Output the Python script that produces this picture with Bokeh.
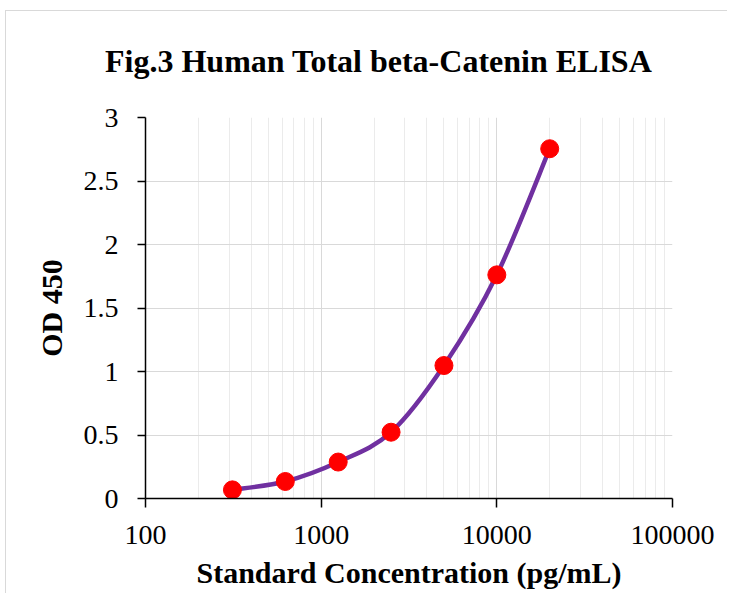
from bokeh.plotting import figure
from bokeh.layouts import column
from bokeh.models import Range1d, FixedTicker, CustomJSTickFormatter, Div
from bokeh.embed import file_html
from bokeh.resources import INLINE
import math

# ---- data ----
concentration = [312.5, 625, 1250, 2500, 5000, 10000, 20000]
od450 = [0.068, 0.134, 0.287, 0.522, 1.047, 1.761, 2.754]
x_ticks = [100, 1000, 10000, 100000]
y_ticks = [0, 0.5, 1, 1.5, 2, 2.5, 3]

title_text = "Fig.3 Human Total beta-Catenin ELISA"
x_label = "Standard Concentration (pg/mL)"
y_label = "OD 450"

SERIF = "Liberation Serif"

title_div = Div(
    text=('<div style="font-family: \'Liberation Serif\'; font-weight: bold; '
          'font-size: 32px; color: black; white-space: nowrap; '
          'padding-left: 99px; padding-top: 32px; line-height: normal;">'
          + title_text + '</div>'),
    width=721, height=80, margin=(0, 0, 0, 0))

p = figure(width=721, height=502, x_axis_type="log",
           x_range=Range1d(100, 100000), y_range=Range1d(0, 3),
           output_backend="svg", toolbar_location=None,
           min_border_left=139, min_border_top=26,
           min_border_right=55, min_border_bottom=95, margin=(0, 0, 0, 0))
p.outline_line_color = None
p.background_fill_color = "white"
p.border_fill_color = "white"

# ticks
minor = [m * 10 ** e for e in range(2, 5) for m in range(2, 10)]
p.xaxis.ticker = FixedTicker(ticks=x_ticks, minor_ticks=minor)
p.yaxis.ticker = FixedTicker(ticks=y_ticks)
p.xaxis.formatter = CustomJSTickFormatter(code="return tick.toString();")
p.yaxis.formatter = CustomJSTickFormatter(code="return tick.toString();")

for ax in (p.xaxis, p.yaxis):
    ax.axis_line_color = "black"
    ax.axis_line_width = 1.5
    ax.major_tick_line_color = "black"
    ax.major_tick_line_width = 1.5
    ax.major_tick_in = 0
    ax.minor_tick_line_color = None
    ax.major_label_text_font = SERIF
    ax.major_label_text_font_size = "28px"
    ax.major_label_text_color = "black"
    ax.axis_label_text_font = SERIF
    ax.axis_label_text_font_style = "bold"
    ax.axis_label_text_font_size = "30px"
    ax.axis_label_text_color = "black"

p.xaxis.axis_label = x_label
p.xaxis.major_tick_out = 9
p.xaxis.major_label_standoff = 18
p.xaxis.axis_label_standoff = 9

p.yaxis.axis_label = y_label
p.yaxis.major_tick_out = 8
p.yaxis.major_label_standoff = 19
p.yaxis.axis_label_standoff = 13

# grids
p.xgrid.grid_line_color = "#d9d9d9"
p.xgrid.grid_line_width = 1
p.xgrid.minor_grid_line_color = "#ebebeb"
p.xgrid.minor_grid_line_width = 1
p.ygrid.grid_line_color = "#d9d9d9"
p.ygrid.grid_line_width = 1

# smoothed line (Catmull-Rom style bezier segments in log-x space)
lx = [math.log10(c) for c in concentration]
n = len(lx)
x0s, y0s, x1s, y1s, cx0s, cy0s, cx1s, cy1s = [], [], [], [], [], [], [], []
for i in range(n - 1):
    ip = max(i - 1, 0)
    inx = min(i + 2, n - 1)
    ax_, ay_ = lx[i], od450[i]
    bx_, by_ = lx[i + 1], od450[i + 1]
    c0x = ax_ + (lx[i + 1] - lx[ip]) / 6
    c0y = ay_ + (od450[i + 1] - od450[ip]) / 6
    c1x = bx_ - (lx[inx] - lx[i]) / 6
    c1y = by_ - (od450[inx] - od450[i]) / 6
    x0s.append(10 ** ax_); y0s.append(ay_)
    x1s.append(10 ** bx_); y1s.append(by_)
    cx0s.append(10 ** c0x); cy0s.append(c0y)
    cx1s.append(10 ** c1x); cy1s.append(c1y)

p.bezier(x0=x0s, y0=y0s, x1=x1s, y1=y1s, cx0=cx0s, cy0=cy0s, cx1=cx1s, cy1=cy1s,
         line_color="#7030a0", line_width=4.5, line_cap="round")

p.scatter(concentration, od450, size=18, fill_color="#ff0000", line_color="#ff0000")

root = column(title_div, p, spacing=0)
root.styles = {"margin-left": "5px", "margin-top": "10px",
               "border-top": "1px solid #d9d9d9", "border-left": "1px solid #d9d9d9",
               "background-color": "white"}

open("out.html", "w").write(file_html(root, INLINE))
